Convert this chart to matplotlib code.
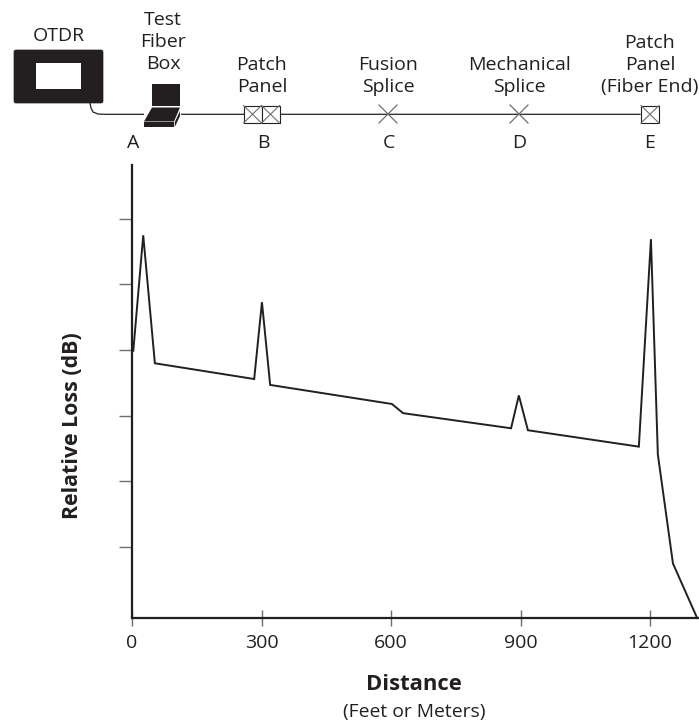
import matplotlib
matplotlib.use("Agg")
import matplotlib.pyplot as plt
from matplotlib.patches import Rectangle, Polygon, FancyBboxPatch

plt.rcParams['font.family'] = ['Open Sans', 'DejaVu Sans']

W, H = 699, 723
INK = '#231f20'
GREY = '#6d6e70'

# Trace
distance = [3, 26, 53, 283, 301, 320, 602, 628, 878, 896, 917, 1174, 1202, 1218, 1253, 1309]
loss = [3.99, 5.75, 3.80, 3.56, 4.73, 3.47, 3.18, 3.04, 2.81, 3.31, 2.78, 2.53, 5.69, 2.41, 0.75, -0.08]
x_ticks = [0, 300, 600, 900, 1200]
y_ticks = [1, 2, 3, 4, 5, 6]

station_letters = ['A', 'B', 'C', 'D', 'E']
station_names = ['Test\nFiber\nBox', 'Patch\nPanel', 'Fusion\nSplice', 'Mechanical\nSplice', 'Patch\nPanel\n(Fiber End)']

fig = plt.figure(figsize=(W / 100, H / 100), dpi=100, facecolor='white')

left, right, top, bottom = 132, 698, 165, 618
ax = fig.add_axes([left / W, 1 - bottom / H, (right - left) / W, (bottom - top) / H])
ax.set_xlim(0, 1311)
ax.set_ylim(-0.08, 6.82)
ax.plot(distance, loss, color=INK, lw=1.4, solid_joinstyle='miter', clip_on=False, zorder=3)
for s in ('top', 'right'):
    ax.spines[s].set_visible(False)
for s in ('left', 'bottom'):
    ax.spines[s].set_linewidth(1.6)
    ax.spines[s].set_color(INK)
ax.set_xticks(x_ticks)
ax.set_yticks(y_ticks)
ax.set_yticklabels([])
ax.tick_params(axis='x', direction='inout', length=11, width=1.0, color=GREY,
               labelsize=14, labelcolor=INK, pad=6)
ax.tick_params(axis='y', direction='out', length=9.4, width=1.0, color=GREY)
ax.patch.set_alpha(0)

# Overlay in pixel coordinates for the schematic and labels
ov = fig.add_axes([0, 0, 1, 1])
ov.set_xlim(0, W)
ov.set_ylim(H, 0)
ov.axis('off')
ov.patch.set_alpha(0)

ov.text(73, 426, 'Relative Loss (dB)', rotation=90, ha='center', va='center',
        fontsize=15.4, fontweight='bold', color=INK)
ov.text(414, 684, 'Distance', ha='center', va='center', fontsize=15.8, fontweight='bold', color=INK)
ov.text(414, 712, '(Feet or Meters)', ha='center', va='center', fontsize=13.9, color=INK)

# Fibre line
ov.plot([90, 91, 93, 98, 104, 640], [103, 108, 112, 114, 114.3, 114.3], color=INK, lw=0.9, zorder=1)

# OTDR
ov.add_patch(FancyBboxPatch((14, 50), 89, 53, boxstyle='round,pad=0,rounding_size=2', fc=INK, ec=INK, lw=0.5, zorder=2))
ov.add_patch(Rectangle((36, 63), 45, 26, fc='white', ec='none', zorder=3))
ov.text(59, 36, 'OTDR', ha='center', va='center', fontsize=14, color=INK)

# Test fibre box (laptop-like shape)
ov.add_patch(Rectangle((152, 84), 28, 22, fc=INK, ec='none', zorder=2))
ov.add_patch(Rectangle((144, 106), 37, 22, fc='white', ec='none', zorder=1.5))
ov.add_patch(Polygon([(152, 107.5), (180, 107.5), (174, 121.5), (144, 121.5)], closed=True, fc=INK, ec='none', zorder=2))
ov.add_patch(Polygon([(144, 122.3), (174, 122.3), (174, 127), (144, 127)], closed=True, fc=INK, ec='none', zorder=2))
ov.add_patch(Polygon([(174.8, 122), (180, 111), (180, 116), (174.8, 127)], closed=True, fc=INK, ec='none', zorder=2))


def crossed_box(x0, y0, w, h):
    ov.add_patch(Rectangle((x0, y0), w, h, fc='white', ec=INK, lw=0.8, zorder=3))
    ov.plot([x0, x0 + w], [y0, y0 + h], color=GREY, lw=0.8, zorder=4)
    ov.plot([x0, x0 + w], [y0 + h, y0], color=GREY, lw=0.8, zorder=4)


crossed_box(243.5, 105.5, 18, 17.5)
crossed_box(261.5, 105.5, 18, 17.5)
crossed_box(641, 105.5, 18, 17.5)
for cx in (388, 519):
    ov.plot([cx - 9, cx + 9], [105, 123], color=GREY, lw=0.9, zorder=3)
    ov.plot([cx - 9, cx + 9], [123, 105], color=GREY, lw=0.9, zorder=3)

letter_x = [133, 263, 389, 519, 650]
for x, s in zip(letter_x, station_letters):
    ov.text(x, 148, s, ha='center', va='baseline', fontsize=14, color=INK)

name_x = [163, 262, 388, 519, 650]
name_base = [69, 92, 92, 92, 92]
for x, y, s in zip(name_x, name_base, station_names):
    ov.text(x, y, s, ha='center', va='baseline', fontsize=14, color=INK, linespacing=1.3)

fig.savefig('out.png', dpi=100, facecolor='white')
